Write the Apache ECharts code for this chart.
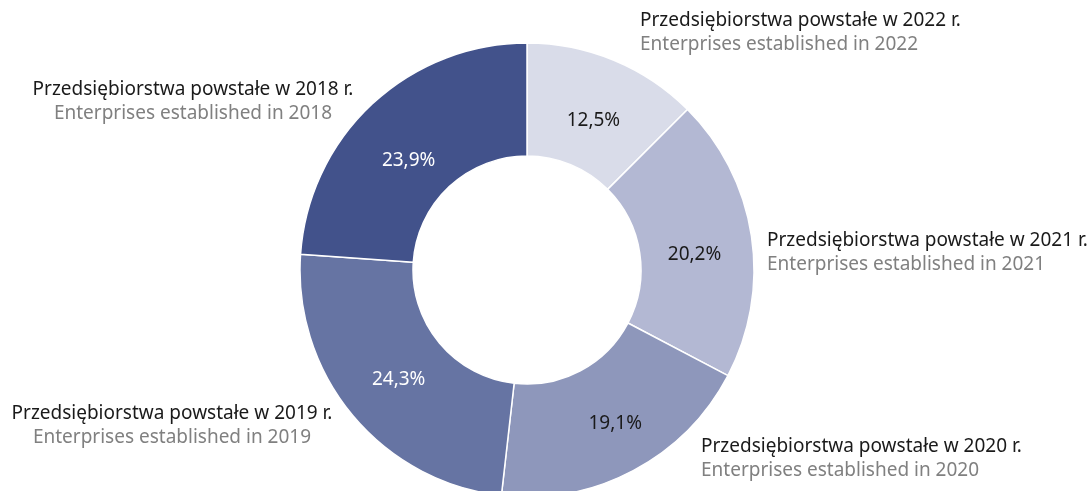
<!DOCTYPE html>
<html>
<head>
<meta charset="utf-8">
<style>
  html, body { margin: 0; padding: 0; background: #fff; }
  #main { width: 1090px; height: 491px; }
</style>
<script src="https://cdn.jsdelivr.net/npm/echarts@6/dist/echarts.min.js"></script>
</head>
<body>
<div id="main"></div>
<script>
// data, clockwise from the top
var years = ['2022', '2021', '2020', '2019', '2018'];
var shares = [12.5, 20.2, 19.1, 24.3, 23.9];
var namesPl = years.map(function (y) { return 'Przedsiębiorstwa powstałe w ' + y + ' r.'; });
var namesEn = years.map(function (y) { return 'Enterprises established in ' + y; });

var sliceColors = ['#d9dce9', '#b3b8d3', '#8e97bb', '#6674a3', '#42528b'];
var pctColors = ['#1a1a1a', '#1a1a1a', '#1a1a1a', '#ffffff', '#ffffff'];

// outer label anchors: [x, y of first line, align]
var labelPos = [
    [640, 21, 'left'],
    [767, 241, 'left'],
    [701, 447, 'left'],
    [172, 414, 'center'],
    [193, 90, 'center']
];
// small hand nudges of the percentage labels, [dx, dy]
var pctNudge = [[0, 11], [-4, 11], [7, 0], [5, -1], [0, 17]];

var FONT = '"Noto Sans", sans-serif';
var FS = 19;

var chartDom = document.getElementById('main');
var myChart = echarts.init(chartDom);
var option;

var graphics = [];
labelPos.forEach(function (p, i) {
    graphics.push({
        type: 'text',
        x: p[0], y: p[1],
        style: {
            text: namesPl[i], fill: '#1a1a1a', font: FS + 'px ' + FONT,
            align: p[2], verticalAlign: 'middle'
        }
    });
    graphics.push({
        type: 'text',
        x: p[0], y: p[1] + 24,
        style: {
            text: namesEn[i], fill: '#808080', font: FS + 'px ' + FONT,
            align: p[2], verticalAlign: 'middle'
        }
    });
});

option = {
    animation: false,
    graphic: graphics,
    series: [
        {
            type: 'pie',
            center: [527, 270],
            radius: [114, 227],
            startAngle: 90,
            clockwise: true,
            avoidLabelOverlap: false,
            itemStyle: {
                borderColor: '#ffffff',
                borderWidth: 1.5
            },
            label: {
                show: true,
                position: 'inside',
                fontFamily: FONT,
                fontSize: FS,
                formatter: function (p) {
                    return p.value.toFixed(1).replace('.', ',') + '%';
                }
            },
            labelLayout: function (params) {
                var n = pctNudge[params.dataIndex];
                return { dx: n[0], dy: n[1] };
            },
            labelLine: { show: false },
            emphasis: { disabled: true },
            data: shares.map(function (v, i) {
                return {
                    name: years[i],
                    value: v,
                    itemStyle: { color: sliceColors[i] },
                    label: { color: pctColors[i] }
                };
            })
        }
    ]
};

option && myChart.setOption(option);

window.addEventListener('resize', function () {
    myChart.resize();
});
</script>
</body>
</html>
